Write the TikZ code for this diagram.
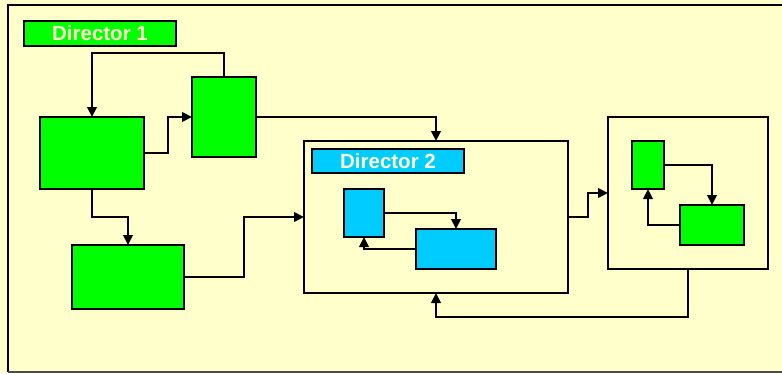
\documentclass[tikz,border=0pt]{standalone}
\usepackage{fontspec}
\setmainfont{Liberation Sans}
\usetikzlibrary{arrows.meta}
\definecolor{bgyellow}{HTML}{FFFFCC}
\definecolor{boxgreen}{HTML}{00FF00}
\definecolor{boxblue}{HTML}{00CCFF}
\definecolor{labeltext}{HTML}{FFFFCC}
\begin{document}
\begin{tikzpicture}[x=1pt,y=-1pt,
  blk/.style={draw=black,line width=2.8pt,rectangle,outer sep=0pt,inner sep=0pt},
  gbox/.style={blk,fill=boxgreen},
  bbox/.style={blk,fill=boxblue},
  frame/.style={blk,fill=none},
  lbl/.style={font=\fontsize{20.5}{24}\selectfont\bfseries,text=labeltext},
  arr/.style={line width=2.3pt,-{Triangle[length=10pt,width=9.5pt]}}]
\useasboundingbox (0,0) rectangle (782,373);
\clip (0,0) rectangle (782,373);
\fill[bgyellow] (0,0) rectangle (782,373);
\draw[line width=2.8pt] (8,372) -- (8,5) -- (800,5);
\draw[line width=2.2pt,draw=black!70] (8,372) -- (800,372);
% Director 1 group
\node[gbox,lbl,minimum width=152pt,minimum height=25pt] (d1) at (100,33.5) {Director 1};
\node[gbox,minimum width=104pt,minimum height=72pt] (A) at (92,153) {};
\node[gbox,minimum width=64pt,minimum height=80pt] (B) at (224,117) {};
\node[gbox,minimum width=112pt,minimum height=64pt] (C) at (128,277) {};
% Director 2 group
\node[frame,minimum width=264pt,minimum height=152pt] (D2) at (436,217) {};
\node[bbox,lbl,minimum width=152pt,minimum height=24pt] (d2) at (388,161) {Director 2};
\node[bbox,minimum width=40pt,minimum height=48pt] (b1) at (364,213) {};
\node[bbox,minimum width=80pt,minimum height=40pt] (b2) at (456,249) {};
% Right group
\node[frame,minimum width=160pt,minimum height=152pt] (R) at (688,193) {};
\node[gbox,minimum width=32pt,minimum height=48pt] (g1) at (648,165) {};
\node[gbox,minimum width=64pt,minimum height=40pt] (g2) at (712,225) {};
% connectors
\draw[arr] (B.north) -- ++(0,-24) -| (A.north);
\draw[arr] (A.east) -- ++(24,0) |- (B.west);
\draw[arr] (B.east) -| (D2.north);
\draw[arr] (A.south) -- ++(0,28) -| (C.north);
\draw[arr] (C.east) -- ++(60,0) |- (D2.west);
\draw[arr] (D2.east) -- ++(20,0) |- (R.west);
\draw[arr] (R.south) -- ++(0,48) -| (D2.south);
\draw[arr] (b1.east) -| (b2.north);
\draw[arr] (b2.west) -| (b1.south);
\draw[arr] (g1.east) -| (g2.north);
\draw[arr] (g2.west) -| (g1.south);
\end{tikzpicture}
\end{document}
